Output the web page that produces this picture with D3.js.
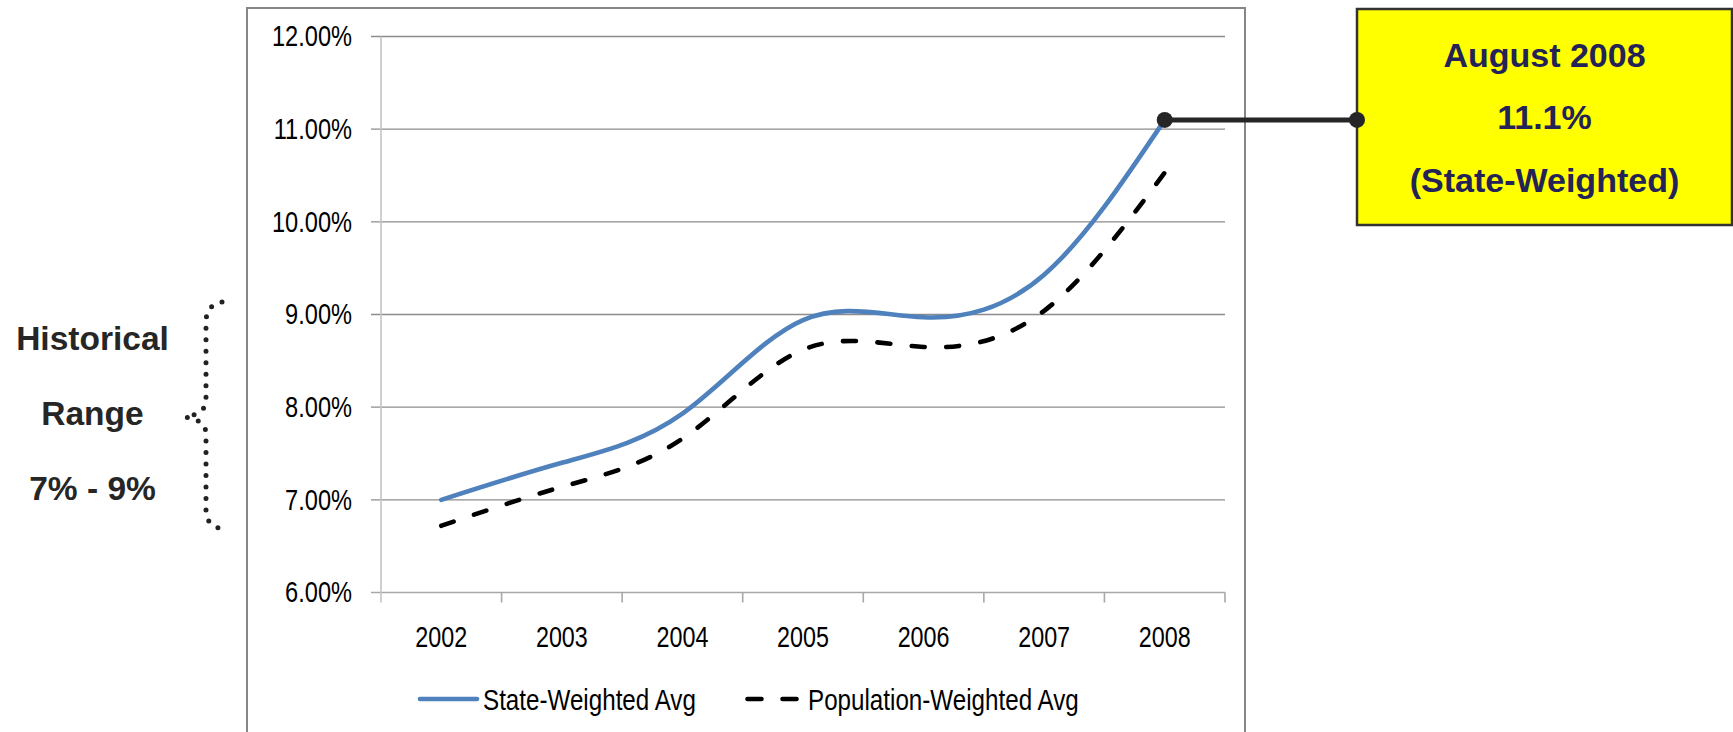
<!DOCTYPE html>
<html>
<head>
<meta charset="utf-8">
<script src="https://cdn.jsdelivr.net/npm/d3@7"></script>
<style>
  html, body { margin: 0; padding: 0; background: #ffffff; }
  svg { display: block; }
</style>
</head>
<body>
<svg id="chart" width="1733" height="732"></svg>
<script>
// ---- data ----
const years = ["2002", "2003", "2004", "2005", "2006", "2007", "2008"];
const stateWeighted = [7.00, 7.40, 7.93, 8.94, 8.97, 9.43, 11.10];
const populationWeighted = [6.72, 7.14, 7.66, 8.62, 8.65, 9.04, 10.53];
const yTicks = [6, 7, 8, 9, 10, 11, 12];
const seriesNames = ["State-Weighted Avg", "Population-Weighted Avg"];
const calloutLines = ["August 2008", "11.1%", "(State-Weighted)"];
const calloutValue = 11.1;
const rangeLines = ["Historical", "Range", "7% - 9%"];

// ---- layout ----
const svg = d3.select("#chart");
const plot = { left: 381, right: 1225, top: 36.5, bottom: 592.5 };
const x = d3.scaleBand().domain(years).range([plot.left, plot.right]);
const y = d3.scaleLinear().domain([6, 12]).range([plot.bottom, plot.top]);
const cx = d => x(d) + x.bandwidth() / 2;
const FONT = "'Liberation Sans', Arial, sans-serif";

svg.append("rect").attr("width", 1733).attr("height", 732).attr("fill", "#fff");

// chart frame
svg.append("rect")
  .attr("x", 247).attr("y", 8).attr("width", 998).attr("height", 770)
  .attr("fill", "none").attr("stroke", "#878787").attr("stroke-width", 2);

// gridlines (with left tick stubs)
svg.append("g").selectAll("line").data(yTicks.filter(t => t > 6)).join("line")
  .attr("x1", plot.left - 10).attr("x2", plot.right)
  .attr("y1", d => y(d)).attr("y2", d => y(d))
  .attr("stroke", "#8c8c8c").attr("stroke-width", 1.4);

// x axis line
svg.append("line")
  .attr("x1", plot.left - 10).attr("x2", plot.right)
  .attr("y1", y(6)).attr("y2", y(6))
  .attr("stroke", "#a8a8a8").attr("stroke-width", 1.6);

// y axis line
svg.append("line")
  .attr("x1", plot.left).attr("x2", plot.left)
  .attr("y1", y(12)).attr("y2", y(6) + 10)
  .attr("stroke", "#c4c4c4").attr("stroke-width", 1.6);

// x ticks at category boundaries
const boundaries = years.map(d => x(d)).concat([x(years[years.length - 1]) + x.step()]);
svg.append("g").selectAll("line").data(boundaries.slice(1)).join("line")
  .attr("x1", d => d).attr("x2", d => d)
  .attr("y1", y(6)).attr("y2", y(6) + 10)
  .attr("stroke", "#a8a8a8").attr("stroke-width", 1.6);

// y tick labels
svg.append("g").selectAll("text").data(yTicks).join("text")
  .attr("transform", d => `translate(352,${y(d)}) scale(0.8,1)`)
  .attr("dy", "0.33em")
  .attr("text-anchor", "end")
  .attr("font-family", FONT).attr("font-size", 29.5).attr("fill", "#000")
  .text(d => d3.format(".2f")(d) + "%");

// x tick labels
svg.append("g").selectAll("text").data(years).join("text")
  .attr("transform", d => `translate(${cx(d)},647) scale(0.79,1)`)
  .attr("text-anchor", "middle")
  .attr("font-family", FONT).attr("font-size", 29.5).attr("fill", "#000")
  .text(d => d);

// series lines
const line = d3.line()
  .x((d, i) => cx(years[i]))
  .y(d => y(d))
  .curve(d3.curveNatural);

svg.append("path").datum(populationWeighted)
  .attr("d", line).attr("fill", "none")
  .attr("stroke", "#000").attr("stroke-width", 4.6)
  .attr("stroke-linecap", "round")
  .attr("stroke-dasharray", "13,21.5");

svg.append("path").datum(stateWeighted)
  .attr("d", line).attr("fill", "none")
  .attr("stroke", "#4f81bd").attr("stroke-width", 4.6)
  .attr("stroke-linecap", "round");

// legend
const legY = 699;
svg.append("line").attr("x1", 420).attr("x2", 477).attr("y1", legY).attr("y2", legY)
  .attr("stroke", "#4f81bd").attr("stroke-width", 4.6).attr("stroke-linecap", "round");
svg.append("text").attr("transform", `translate(483,710) scale(0.82,1)`)
  .attr("font-family", FONT).attr("font-size", 29.5).attr("fill", "#000").text(seriesNames[0]);
svg.append("line").attr("x1", 747.5).attr("x2", 797.5).attr("y1", legY).attr("y2", legY)
  .attr("stroke", "#000").attr("stroke-width", 4.6).attr("stroke-linecap", "round")
  .attr("stroke-dasharray", "14,21");
svg.append("text").attr("transform", `translate(808,710) scale(0.82,1)`)
  .attr("font-family", FONT).attr("font-size", 29.5).attr("fill", "#000").text(seriesNames[1]);

// callout
const box = { x: 1357, y: 9, w: 375, h: 216 };
const endX = cx(years[years.length - 1]);
const endY = y(calloutValue);
svg.append("line").attr("x1", endX).attr("x2", box.x).attr("y1", endY).attr("y2", endY)
  .attr("stroke", "#262626").attr("stroke-width", 5);
svg.append("rect").attr("x", box.x).attr("y", box.y).attr("width", box.w).attr("height", box.h)
  .attr("fill", "#ffff00").attr("stroke", "#333333").attr("stroke-width", 2.5);
svg.append("circle").attr("cx", endX).attr("cy", endY).attr("r", 8).attr("fill", "#262626");
svg.append("circle").attr("cx", box.x).attr("cy", endY).attr("r", 8).attr("fill", "#262626");
svg.append("g").selectAll("text").data(calloutLines).join("text")
  .attr("x", box.x + box.w / 2)
  .attr("y", (d, i) => 67 + i * 62.3)
  .attr("text-anchor", "middle")
  .attr("font-family", FONT).attr("font-weight", "bold").attr("font-size", 34)
  .attr("fill", "#232357")
  .text(d => d);

// historical range label
svg.append("g").selectAll("text").data(rangeLines).join("text")
  .attr("x", 92.5)
  .attr("y", (d, i) => 350 + i * 75)
  .attr("text-anchor", "middle")
  .attr("font-family", FONT).attr("font-weight", "bold").attr("font-size", 33.5)
  .attr("fill", "#262626")
  .text(d => d);

// dotted curly brace
const bp = d3.path();
bp.moveTo(222, 302);
bp.quadraticCurveTo(206, 305, 206, 322);
bp.lineTo(206, 400);
bp.quadraticCurveTo(206, 414, 185, 417);
bp.quadraticCurveTo(206, 420, 206, 434);
bp.lineTo(206, 511);
bp.quadraticCurveTo(206, 528, 229, 530);
svg.append("path").attr("d", bp.toString()).attr("fill", "none")
  .attr("stroke", "#222").attr("stroke-width", 5)
  .attr("stroke-linecap", "round").attr("stroke-dasharray", "0,11.5");
</script>
</body>
</html>
